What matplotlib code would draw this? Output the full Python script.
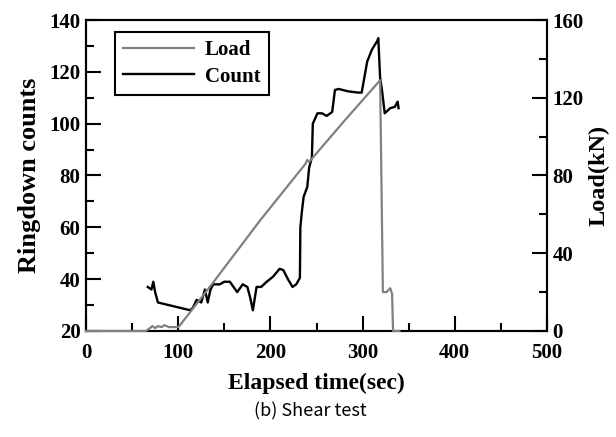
import matplotlib.pyplot as plt
from matplotlib.ticker import MultipleLocator

# load record (kN), right axis
load_t = [0, 20, 40, 65, 68, 72, 75, 78, 82, 85, 90, 95, 100, 102,
          138, 189, 238, 240, 242, 280, 319, 322, 326, 328, 330, 332, 333, 340]
load_kn = [0, 0, 0, 0, 1, 2.5, 1.5, 2.5, 2, 3, 2, 2, 2, 3,
           25, 57, 86, 88, 87, 108, 129, 20, 20, 21, 22, 19, 0, 0]

# ringdown counts, left axis
count_t = [67, 71, 73, 75, 78, 113, 116, 120, 125, 129, 132, 135, 138, 145, 150, 156,
           160, 164, 170, 175, 178, 181, 185, 190, 196, 203, 210, 214, 219, 224, 228, 232,
           232.5, 234, 236, 240, 242, 245, 246, 251, 256, 261, 267, 270, 274, 284, 295,
           299, 305, 310, 316, 317, 319, 321, 324, 327, 330, 335, 338, 339]
count_v = [37, 36, 39, 35, 31, 28, 29, 32, 31, 36, 31, 36, 38, 38, 39, 39,
           37, 35, 38, 37, 33, 28, 37, 37, 39, 41, 44, 43.5, 40, 37, 38, 40.5,
           60, 65.6, 71.7, 75.6, 83, 87, 100, 104, 104, 103, 104.5, 113, 113.4, 112.5, 112,
           112, 124, 128.5, 132, 133, 117.7, 113, 104, 105, 106, 106.5, 108.5, 106]

plt.rcParams['font.family'] = ['Liberation Serif', 'DejaVu Serif']
plt.rcParams['font.weight'] = 'bold'

fig = plt.figure(figsize=(6.16, 4.37), dpi=100)
ax = fig.add_axes([0.1396, 0.2426, 0.7484, 0.7116])
ax2 = ax.twinx()

l1, = ax2.plot(load_t, load_kn, color='#808080', lw=1.6, label='Load', zorder=3, clip_on=False)
l2, = ax.plot(count_t, count_v, color='black', lw=1.7, label='Count')

ax.set_xlim(0, 500)
ax.set_ylim(20, 140)
ax2.set_ylim(0, 160)

ax.xaxis.set_major_locator(MultipleLocator(100))
ax.xaxis.set_minor_locator(MultipleLocator(50))
ax.yaxis.set_major_locator(MultipleLocator(20))
ax.yaxis.set_minor_locator(MultipleLocator(10))
ax2.yaxis.set_major_locator(MultipleLocator(40))
ax2.yaxis.set_minor_locator(MultipleLocator(20))

for a in (ax, ax2):
    a.tick_params(which='major', direction='in', length=11, width=1.5, labelsize=15, pad=4)
    a.tick_params(which='minor', direction='in', length=6, width=1.5)
    for s in a.spines.values():
        s.set_linewidth(1.5)
ax.tick_params(which='both', top=False, right=False)
ax.tick_params(axis='x', which='major', pad=9)
ax2.tick_params(which='both', top=False)
for lab in ax.get_xticklabels() + ax.get_yticklabels() + ax2.get_yticklabels():
    lab.set_fontweight('bold')

ax.set_xlabel('Elapsed time(sec)', fontsize=17, fontweight='bold', labelpad=7)
ax.set_ylabel('Ringdown counts', fontsize=19, fontweight='bold', labelpad=6)
ax2.set_ylabel('Load(kN)', fontsize=17.5, fontweight='bold', labelpad=3)

leg = ax.legend([l1, l2], ['Load', 'Count'], loc='upper left', bbox_to_anchor=(0.063, 0.961),
                fancybox=False, edgecolor='black', framealpha=1, handlelength=3.4,
                handletextpad=0.5, borderaxespad=0,
                prop={'size': 15, 'weight': 'bold'}, borderpad=0.4, labelspacing=0.3)
leg.get_frame().set_linewidth(1.5)

fig.text(0.503, 0.058, '(b) Shear test', ha='center', va='center', fontsize=13,
         family=['Noto Sans CJK KR', 'DejaVu Sans'], fontweight='normal')

fig.savefig('out.png', dpi=100)
